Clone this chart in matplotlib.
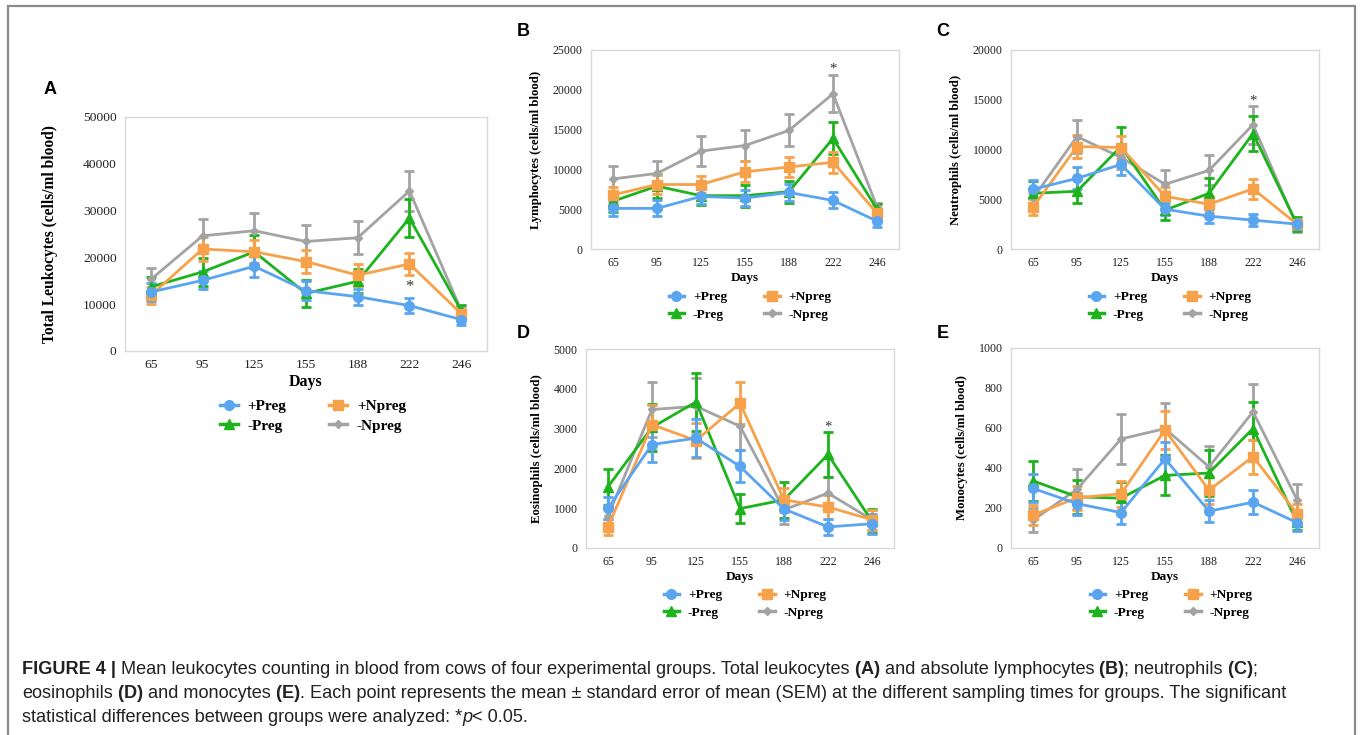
import numpy as np
import matplotlib
matplotlib.use("Agg")
import matplotlib.pyplot as plt
from matplotlib.patches import Rectangle
from matplotlib.lines import Line2D

days = ["65", "95", "125", "155", "188", "222", "246"]
groups = ["+Preg", "+Npreg", "-Preg", "-Npreg"]

# A - total leukocytes
leuk_pp = [12600, 15100, 18100, 12900, 11600, 9700, 6700]
leuk_pp_se = [2000, 1900, 2200, 2000, 1700, 1600, 1100]
leuk_np = [11900, 21800, 21200, 19100, 16200, 18600, 8000]
leuk_np_se = [1800, 2500, 2500, 2400, 2300, 2300, 1000]
leuk_mp = [13700, 16900, 21200, 12300, 14900, 28400, 8700]
leuk_mp_se = [2100, 3000, 3500, 2800, 2600, 4000, 1100]
leuk_mn = [15300, 24600, 25700, 23400, 24200, 34200, 8700]
leuk_mn_se = [2400, 3600, 3700, 3500, 3500, 4300, 1000]

# B - lymphocytes
lym_pp = [5100, 5100, 6600, 6400, 7100, 6100, 3500]
lym_pp_se = [900, 1000, 1000, 1000, 1100, 1000, 700]
lym_np = [6800, 8100, 8100, 9700, 10300, 10900, 4500]
lym_np_se = [1000, 1200, 1100, 1300, 1300, 1300, 700]
lym_mp = [6000, 7900, 6700, 6700, 7200, 13900, 5000]
lym_mp_se = [1300, 1500, 1200, 1400, 1400, 2000, 600]
lym_mn = [8800, 9500, 12300, 13000, 14900, 19500, 5300]
lym_mn_se = [1600, 1600, 1900, 1900, 2000, 2300, 500]

# C - neutrophils
neu_pp = [6000, 7100, 8500, 4000, 3300, 2900, 2500]
neu_pp_se = [900, 1100, 1100, 600, 700, 600, 500]
neu_np = [4200, 10300, 10200, 5300, 4500, 6050, 2500]
neu_np_se = [800, 1200, 1200, 900, 800, 1000, 500]
neu_mp = [5600, 5800, 10300, 3900, 5600, 11600, 2500]
neu_mp_se = [1200, 1200, 2000, 1000, 1500, 1800, 700]
neu_mn = [5100, 11300, 9200, 6500, 7900, 12500, 2300]
neu_mn_se = [500, 1700, 1200, 1400, 1500, 1900, 600]

# D - eosinophils
eos_pp = [1000, 2600, 2760, 2050, 980, 530, 610]
eos_pp_se = [270, 450, 480, 400, 270, 200, 250]
eos_np = [530, 3100, 2700, 3640, 1210, 1030, 710]
eos_np_se = [200, 500, 450, 520, 300, 300, 250]
eos_mp = [1540, 3030, 3670, 990, 1210, 2350, 670]
eos_mp_se = [450, 600, 720, 370, 450, 570, 300]
eos_mn = [800, 3480, 3560, 3060, 960, 1380, 710]
eos_mn_se = [200, 700, 700, 600, 350, 400, 250]

# E - monocytes
mon_pp = [298, 222, 177, 446, 184, 229, 127]
mon_pp_se = [70, 55, 55, 85, 55, 60, 40]
mon_np = [164, 251, 271, 590, 289, 457, 172]
mon_np_se = [50, 60, 65, 95, 70, 85, 50]
mon_mp = [336, 256, 249, 363, 375, 597, 130]
mon_mp_se = [100, 85, 80, 100, 115, 135, 40]
mon_mn = [139, 294, 545, 597, 406, 681, 242]
mon_mn_se = [60, 100, 125, 130, 105, 140, 80]

star_pos = [13700, 22600, 14900, 3050, None]

colors = {"+Preg": "#5aa5f0", "+Npreg": "#f7a24a", "-Preg": "#1db31d", "-Npreg": "#a3a3a3"}
markers = {"+Preg": "o", "+Npreg": "s", "-Preg": "^", "-Npreg": "D"}
msizes = {"+Preg": 7, "+Npreg": 7, "-Preg": 7, "-Npreg": 4.5}

serif = "Liberation Serif"
sans = "Liberation Sans"

fig = plt.figure(figsize=(13.6, 7.35), dpi=100)

# outer frame
fig.patches.append(Rectangle((8 / 1360, -0.1), 1347 / 1360, 1.1 - 6 / 735,
                             transform=fig.transFigure, fill=False,
                             edgecolor="#8a8a8a", linewidth=1.6))


def px(x, y):
    return x / 1360, 1 - y / 735


def make_panel(rect, data, ymax, ystep, ylabel, letter, letter_xy, leg_xy,
               star, big=False):
    l, t, r, b = rect
    ax = fig.add_axes([l / 1360, 1 - b / 735, (r - l) / 1360, (b - t) / 735])
    x = np.arange(len(days))
    fs_tick = 9.7 if big else 8.6
    fs_lab = 11.2 if big else 9.2
    fs_days = 11.5 if big else 9.6
    fs_leg = 11 if big else 9.6
    for g in ["-Npreg", "-Preg", "+Npreg", "+Preg"]:
        vals, se = data[g]
        ax.errorbar(x, vals, yerr=se, color=colors[g], marker=markers[g],
                    markersize=msizes[g], linewidth=2, elinewidth=2,
                    capsize=3.5, capthick=2)
    ax.set_xlim(-0.5, 6.5)
    ax.set_ylim(0, ymax)
    ax.set_yticks(np.arange(0, ymax + 1, ystep))
    ax.set_xticks(x)
    ax.set_xticklabels(days)
    for s in ax.spines.values():
        s.set_color("#d9d9d9")
        s.set_linewidth(1)
    ax.tick_params(length=0, labelsize=fs_tick, pad=6, colors="#222222")
    for lbl in ax.get_xticklabels() + ax.get_yticklabels():
        lbl.set_fontfamily(serif)
    ax.set_ylabel(ylabel, fontfamily=serif, fontweight="bold", fontsize=fs_lab,
                  labelpad=18 if big else 8)
    ax.set_xlabel("Days", fontfamily=serif, fontweight="bold", fontsize=fs_days,
                  labelpad=2)
    if star is not None:
        ax.text(5, star, "*", ha="center", va="center", fontsize=fs_leg + 1,
                fontfamily=serif, color="#333333")
    order = ["+Preg", "-Preg", "+Npreg", "-Npreg"]
    hs = [Line2D([], [], color=colors[g], marker=markers[g], linewidth=2.5,
                 markersize=msizes[g]) for g in order]
    ax.legend(hs, order, ncol=2, loc="center",
              bbox_to_anchor=px(*leg_xy), bbox_transform=fig.transFigure,
              frameon=False, handlelength=1.15, columnspacing=2.8,
              handletextpad=0.65, labelspacing=0.4,
              prop={"family": serif, "weight": "bold", "size": fs_leg})
    fig.text(*px(*letter_xy), letter, fontfamily=sans, fontweight="bold",
             fontsize=13, ha="center", va="center")
    return ax


make_panel((125, 117, 487, 351),
           {"+Preg": (leuk_pp, leuk_pp_se), "+Npreg": (leuk_np, leuk_np_se),
            "-Preg": (leuk_mp, leuk_mp_se), "-Npreg": (leuk_mn, leuk_mn_se)},
           50000, 10000, "Total Leukocytes (cells/ml blood)", "A", (50, 90),
           (313, 416), star_pos[0], big=True)
make_panel((591, 50, 899, 249),
           {"+Preg": (lym_pp, lym_pp_se), "+Npreg": (lym_np, lym_np_se),
            "-Preg": (lym_mp, lym_mp_se), "-Npreg": (lym_mn, lym_mn_se)},
           25000, 5000, "Lymphocytes (cells/ml blood)", "B", (523, 32),
           (750, 306), star_pos[1])
make_panel((1011, 50, 1319, 249),
           {"+Preg": (neu_pp, neu_pp_se), "+Npreg": (neu_np, neu_np_se),
            "-Preg": (neu_mp, neu_mp_se), "-Npreg": (neu_mn, neu_mn_se)},
           20000, 5000, "Neutrophils (cells/ml blood)", "C", (943, 32),
           (1170, 306), star_pos[2])
make_panel((586, 349, 894, 548),
           {"+Preg": (eos_pp, eos_pp_se), "+Npreg": (eos_np, eos_np_se),
            "-Preg": (eos_mp, eos_mp_se), "-Npreg": (eos_mn, eos_mn_se)},
           5000, 1000, "Eosinophils (cells/ml blood)", "D", (523, 333),
           (745, 604), star_pos[3])
make_panel((1011, 348, 1319, 548),
           {"+Preg": (mon_pp, mon_pp_se), "+Npreg": (mon_np, mon_np_se),
            "-Preg": (mon_mp, mon_mp_se), "-Npreg": (mon_mn, mon_mn_se)},
           1000, 200, "Monocytes (cells/ml blood)", "E", (943, 333),
           (1171, 604), star_pos[4])

# caption with bold pieces
caption = [
    [("FIGURE 4 |", "bold"),
     (" Mean leukocytes counting in blood from cows of four experimental groups. Total leukocytes", "normal"),
     (" (A)", "bold"), (" and absolute lymphocytes", "normal"), (" (B)", "bold"),
     ("; neutrophils", "normal"), (" (C)", "bold"), (";", "normal")],
    [("eosinophils", "normal"), (" (D)", "bold"), (" and monocytes", "normal"),
     (" (E)", "bold"),
     (". Each point represents the mean \u00b1 standard error of mean (SEM) at the different sampling times for groups. The significant", "normal")],
    [("statistical differences between groups were analyzed: *", "normal"),
     ("p", "italic"), ("< 0.05.", "normal")],
]
renderer = fig.canvas.get_renderer()
cap_y = [669, 693, 717]
for line, yy in zip(caption, cap_y):
    xx = 22
    for txt, w in line:
        kw = {"fontstyle": "italic"} if w == "italic" else {"fontweight": w}
        t = fig.text(xx / 1360, 1 - yy / 735, txt, fontsize=13.1, fontfamily=sans,
                     color="#222222", va="center", ha="left", **kw)
        bb = t.get_window_extent(renderer)
        xx += bb.width

fig.savefig("out.png", dpi=100)
